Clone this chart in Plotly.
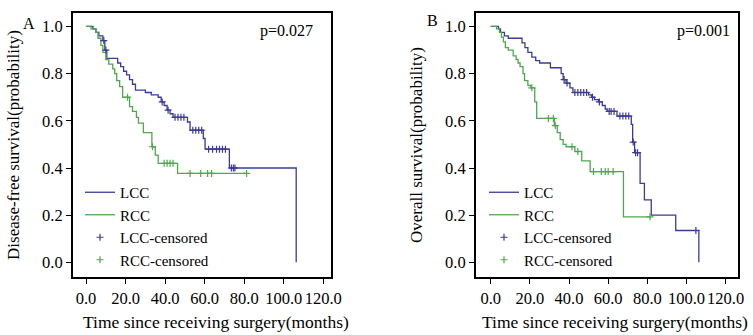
import numpy as np
import plotly.graph_objects as go

# ---------------- data ----------------
# Panel A: disease-free survival
A_LCC_time = [0, 3.5, 5, 6.5, 8.5, 9.5, 10.5, 16, 17.5, 19, 20.5, 22, 23.5, 25, 30, 33, 36.5,
              38, 39.5, 41, 42.5, 44, 51.3, 52.6, 59.3, 60.2, 72.5, 106.3]
A_LCC_surv = [1.0, 0.99, 0.975, 0.96, 0.94, 0.90, 0.865, 0.845, 0.83, 0.81, 0.795, 0.775, 0.755,
              0.73, 0.72, 0.71, 0.70, 0.68, 0.665, 0.645, 0.63, 0.615, 0.595, 0.56, 0.525, 0.48,
              0.40, 0.0]
A_LCC_cens = [9, 10, 38.5, 41.5, 45, 46.5, 48, 49.5, 54, 55.5, 57, 58.5, 62, 64, 66, 67.5, 69,
              70.5, 73.5, 74.5, 75.3]

A_RCC_time = [0, 2.5, 5, 6, 7.5, 8.5, 10, 11.5, 13.5, 14.5, 15.5, 17, 18.5, 22, 23.5, 25.5, 26.5,
              29, 33.3, 35, 36.5, 46.3]
A_RCC_surv = [1.0, 0.99, 0.975, 0.95, 0.92, 0.89, 0.86, 0.84, 0.82, 0.80, 0.77, 0.745, 0.70,
              0.66, 0.64, 0.615, 0.59, 0.55, 0.49, 0.455, 0.42, 0.377]
A_RCC_cens = [21, 33.6, 39.5, 41, 42.5, 44, 52.6, 58, 61.5, 63.5, 81.2]

# Panel B: overall survival
B_LCC_time = [0, 4, 5, 7, 9, 16, 17.5, 19, 21, 23, 25, 30.5, 36, 37, 38.5, 40.5, 42, 50, 51.5,
              53, 55, 57, 58.5, 59.5, 64.5, 71.8, 72.5, 73.5, 76.3, 78.5, 82, 94.5, 106.3]
B_LCC_surv = [1.0, 0.99, 0.975, 0.96, 0.95, 0.93, 0.91, 0.89, 0.87, 0.855, 0.845, 0.825, 0.80,
              0.775, 0.76, 0.74, 0.72, 0.71, 0.70, 0.69, 0.68, 0.665, 0.65, 0.64, 0.62, 0.585,
              0.51, 0.465, 0.335, 0.265, 0.20, 0.135, 0.0]
B_LCC_cens = [37.5, 39, 43, 44.5, 46, 47.5, 49, 52, 55.5, 60.5, 61.5, 63, 66, 67.5, 69, 70.5,
              72.8, 74, 75, 104.8]

B_RCC_time = [0, 3, 4.5, 5.5, 6.5, 7.5, 9, 11.5, 13, 14, 15, 16.5, 17.3, 19, 20.5, 22.5, 23.5,
              32.5, 34, 35.5, 37, 38.5, 43, 46.5, 50.8, 67.8]
B_RCC_surv = [1.0, 0.99, 0.975, 0.955, 0.935, 0.91, 0.90, 0.875, 0.86, 0.845, 0.83, 0.80, 0.77,
              0.75, 0.74, 0.68, 0.61, 0.58, 0.55, 0.52, 0.50, 0.49, 0.47, 0.43, 0.385, 0.193]
B_RCC_cens = [21, 29.5, 32, 33, 41.5, 44.5, 52.5, 56.5, 58.5, 60, 62.5, 81.4]

x_ticks = [0, 20, 40, 60, 80, 100, 120]
y_ticks = [0.0, 0.2, 0.4, 0.6, 0.8, 1.0]
p_values = ["p=0.027", "p=0.001"]
y_titles = ["Disease-free survival(probability)", "Overall survival(probability)"]
x_title = "Time since receiving surgery(months)"
panel_letters = ["A", "B"]

LCC_COLOR = "#3b3b98"
RCC_COLOR = "#4fa84f"
FONT = "Liberation Serif, Times New Roman, serif"


def step_line(times, surv, cens):
    t = list(times)
    s = list(surv)
    if cens and max(cens) > t[-1]:
        t.append(max(cens))
        s.append(s[-1])
    return t, s


def cens_y(times, surv, cens):
    times = np.asarray(times)
    surv = np.asarray(surv)
    idx = np.searchsorted(times, np.asarray(cens), side="right") - 1
    return surv[idx]


fig = go.Figure()

panels = [
    ("x", "y", "legend", A_LCC_time, A_LCC_surv, A_LCC_cens, A_RCC_time, A_RCC_surv, A_RCC_cens),
    ("x2", "y2", "legend2", B_LCC_time, B_LCC_surv, B_LCC_cens, B_RCC_time, B_RCC_surv, B_RCC_cens),
]

for xa, ya, lg, lt, ls, lc, rt, rs, rc in panels:
    t, s = step_line(lt, ls, lc)
    fig.add_trace(go.Scatter(x=t, y=s, mode="lines", line=dict(shape="hv", color=LCC_COLOR, width=1.3),
                             name="LCC", xaxis=xa, yaxis=ya, legend=lg))
    t, s = step_line(rt, rs, rc)
    fig.add_trace(go.Scatter(x=t, y=s, mode="lines", line=dict(shape="hv", color=RCC_COLOR, width=1.3),
                             name="RCC", xaxis=xa, yaxis=ya, legend=lg))
    fig.add_trace(go.Scatter(x=lc, y=cens_y(lt, ls, lc), mode="markers",
                             marker=dict(symbol="cross-thin", size=5, line=dict(color=LCC_COLOR, width=1.2)),
                             name="LCC-censored", xaxis=xa, yaxis=ya, legend=lg))
    fig.add_trace(go.Scatter(x=rc, y=cens_y(rt, rs, rc), mode="markers",
                             marker=dict(symbol="cross-thin", size=5, line=dict(color=RCC_COLOR, width=1.2)),
                             name="RCC-censored", xaxis=xa, yaxis=ya, legend=lg))

W, H = 753, 335
domA = [73 / W, 331 / W]
domB = [476 / W, 738 / W]
domY = [(H - 277) / H, (H - 13) / H]

axis_common = dict(showline=True, linecolor="black", linewidth=2, mirror=True, ticks="outside",
                   ticklen=5, tickcolor="black", tickwidth=1, showgrid=False, zeroline=False,
                   automargin=False, tickangle=0,
                   tickfont=dict(family=FONT, size=16.5, color="black"))

fig.update_layout(
    width=W, height=H, margin=dict(l=0, r=0, t=0, b=0),
    paper_bgcolor="white", plot_bgcolor="white",
    font=dict(family=FONT, color="black"),
    xaxis=dict(domain=domA, range=[-6.6, 123.9], tickvals=x_ticks, tickformat=".1f",
               anchor="y", **axis_common),
    yaxis=dict(domain=domY, range=[-0.062, 1.057], tickvals=y_ticks, tickformat=".1f",
               title=dict(text=y_titles[0], font=dict(size=17), standoff=18), anchor="x", **axis_common),
    xaxis2=dict(domain=domB, range=[-7.5, 126.3], tickvals=x_ticks, tickformat=".1f",
                anchor="y2", **axis_common),
    yaxis2=dict(domain=domY, range=[-0.062, 1.057], tickvals=y_ticks, tickformat=".1f",
                title=dict(text=y_titles[1], font=dict(size=17), standoff=18), anchor="x2", **axis_common),
    legend=dict(x=80 / W, y=(H - 276) / H, xanchor="left", yanchor="bottom", bgcolor="rgba(0,0,0,0)",
                font=dict(family=FONT, size=15, color="black"), tracegroupgap=0, itemwidth=30),
    legend2=dict(x=484 / W, y=(H - 276) / H, xanchor="left", yanchor="bottom", bgcolor="rgba(0,0,0,0)",
                 font=dict(family=FONT, size=15, color="black"), tracegroupgap=0, itemwidth=30),
    showlegend=True,
)

annotations = [
    dict(text=p_values[0], x=0.938, y=0.975, xref="x domain", yref="y domain", xanchor="right",
         yanchor="top", showarrow=False, font=dict(family=FONT, size=16, color="black")),
    dict(text=p_values[1], x=0.977, y=0.975, xref="x2 domain", yref="y2 domain", xanchor="right",
         yanchor="top", showarrow=False, font=dict(family=FONT, size=16, color="black")),
    dict(text=panel_letters[0], x=21 / W, y=(H - 13) / H, xref="paper", yref="paper", showarrow=False,
         font=dict(family=FONT, size=16, color="black")),
    dict(text=panel_letters[1], x=432 / W, y=(H - 10) / H, xref="paper", yref="paper", showarrow=False,
         font=dict(family=FONT, size=16, color="black")),
    dict(text=x_title, x=216 / W, y=(H - 322) / H, xref="paper", yref="paper", showarrow=False,
         xanchor="center", yanchor="middle", font=dict(family=FONT, size=17.5, color="black")),
    dict(text=x_title, x=615 / W, y=(H - 322) / H, xref="paper", yref="paper", showarrow=False,
         xanchor="center", yanchor="middle", font=dict(family=FONT, size=17.5, color="black")),
]
fig.update_layout(annotations=annotations)

fig.write_html("out.html", config={"displayModeBar": False},
               post_script="document.body.style.margin='0px';")
